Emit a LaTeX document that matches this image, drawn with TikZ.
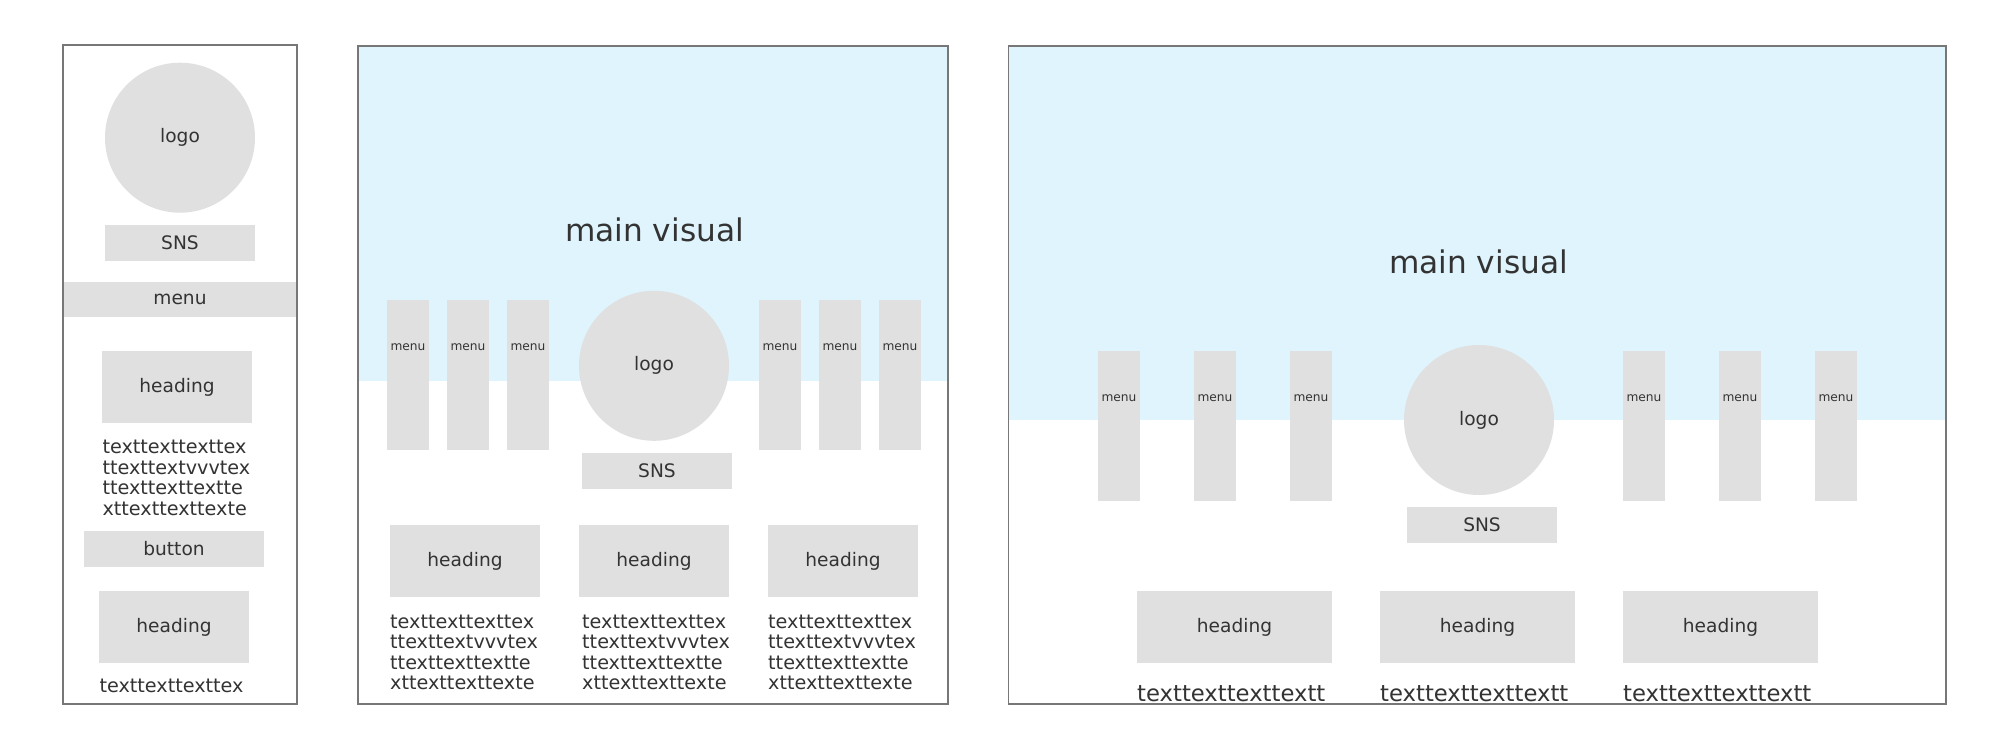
\documentclass[tikz,border=0pt]{standalone}
\usepackage{fontspec}
\setmainfont{DejaVu Sans}
\definecolor{boxgray}{HTML}{E0E0E0}
\definecolor{skyblue}{HTML}{DFF4FC}
\definecolor{framegray}{HTML}{777777}
\definecolor{txtgray}{HTML}{333333}
\tikzset{
  panel/.style={draw=framegray, line width=1.5pt},
  skyfill/.style={fill=skyblue},
  gbox/.style={fill=boxgray, inner sep=0pt, outer sep=0pt, text=txtgray, font=\fontsize{18.6}{22}\selectfont},
  logocirc/.style={gbox, circle, minimum size=150pt},
  menutxt/.style={inner sep=0pt, text=txtgray, font=\fontsize{12.2}{14}\selectfont},
  bodytxt/.style={inner sep=0pt, text=txtgray, align=left, anchor=base west, font=\fontsize{19.2}{20.5}\selectfont},
  bigbody/.style={inner sep=0pt, text=txtgray, anchor=base west, font=\fontsize{22.7}{26}\selectfont},
  mvtxt/.style={inner sep=0pt, text=txtgray, font=\fontsize{31.2}{36}\selectfont},
}
\begin{document}
\begin{tikzpicture}[x=1pt,y=-1pt]
\useasboundingbox[fill=white] (0,0) rectangle (2010,750);

% ---------------- Panel 1 (mobile) ----------------
\fill[white] (63,45) rectangle (297,704);
\node[logocirc] (logo1) at (180,137.7) {logo};
\node[gbox, minimum width=150pt, minimum height=36pt] (sns1) at (180,243) {SNS};
\node[gbox, minimum width=234pt, minimum height=35pt] (menu1) at (180,299.7) {menu};
\node[gbox, minimum width=150pt, minimum height=72pt] (head1a) at (177,387) {heading};
% base anchor of a multi-line node = baseline of its last line
\node[bodytxt] (txt1a) at (102.3,515.3) {texttexttexttex\\ttexttextvvvtex\\ttexttexttextte\\xttexttexttexte};
\node[gbox, minimum width=180pt, minimum height=36pt] (btn1) at (174,549) {button};
\node[gbox, minimum width=150pt, minimum height=72pt] (head1b) at (174,627) {heading};
\node[bodytxt] (txt1b) at (99.3,692.5) {texttexttexttex};
\draw[panel] (63,45) rectangle (297,704);

% ---------------- Panel 2 (tablet) ----------------
\fill[white] (358,46) rectangle (948,704);
\fill[skyfill] (358,46) rectangle (948,381);
\node[mvtxt] (mv2) at (654.5,230) {main visual};
\foreach \cx/\nm in {408/a,468/b,528/c,780/d,840/e,900/f}{
  \node[gbox, minimum width=42pt, minimum height=150pt] (m2\nm) at (\cx,375) {};
  \node[menutxt] (m2\nm t) at (\cx,346.7) {menu};
}
\node[logocirc] (logo2) at (654,365.8) {logo};
\node[gbox, minimum width=150pt, minimum height=36pt] (sns2) at (657,471) {SNS};
\foreach \cx/\tx/\nm in {465/390/a,654/582/b,843/768/c}{
  \node[gbox, minimum width=150pt, minimum height=72pt] (h2\nm) at (\cx,561) {heading};
  \node[bodytxt] (t2\nm) at (\tx,689.8) {texttexttexttex\\ttexttextvvvtex\\ttexttexttextte\\xttexttexttexte};
}
\draw[panel] (358,46) rectangle (948,704);

% ---------------- Panel 3 (desktop) ----------------
\fill[white] (1008.5,46) rectangle (1946,704);
\fill[skyfill] (1008.5,46) rectangle (1946,420);
\node[mvtxt] (mv3) at (1478.5,262) {main visual};
\foreach \cx/\nm in {1119/a,1215/b,1311/c,1644/d,1740/e,1836/f}{
  \node[gbox, minimum width=42pt, minimum height=150pt] (m3\nm) at (\cx,426) {};
  \node[menutxt] (m3\nm t) at (\cx,398.3) {menu};
}
\node[logocirc] (logo3) at (1479,420) {logo};
\node[gbox, minimum width=150pt, minimum height=36pt] (sns3) at (1482,525) {SNS};
\foreach \cx/\tx/\nm in {1234.5/1137/a,1477.5/1380/b,1720.5/1623/c}{
  \node[gbox, minimum width=195pt, minimum height=72pt] (h3\nm) at (\cx,627) {heading};
  \node[bigbody] (t3\nm) at (\tx,701.5) {texttexttexttextt};
}
\draw[panel] (1008.5,46) rectangle (1946,704);
\end{tikzpicture}
\end{document}
